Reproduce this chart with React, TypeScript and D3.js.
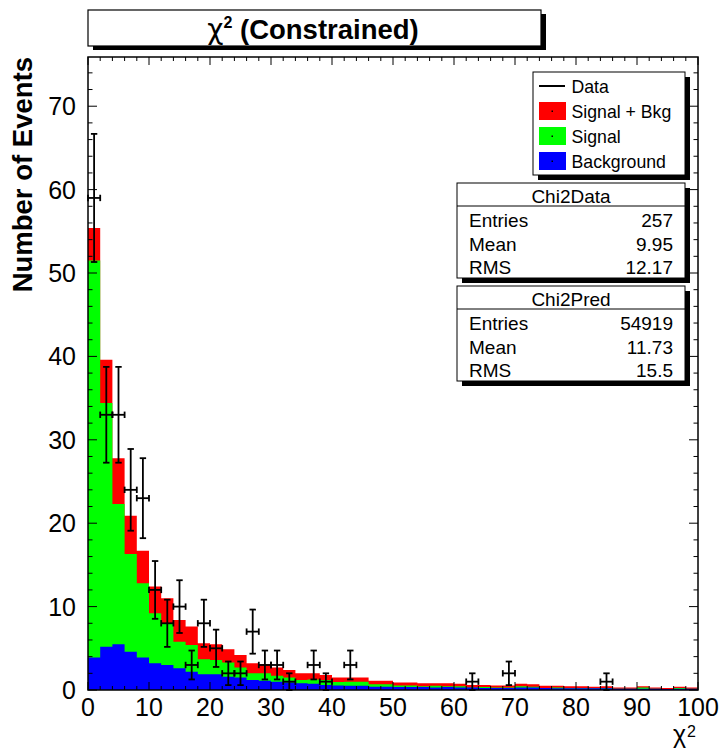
import React from "react";
import * as d3 from "d3";

const W = 722;
const H = 748;
const FONT = "'Liberation Sans', Arial, Helvetica, sans-serif";

// bin edges: 50 bins of width 2 from 0 to 100
const binLow: number[] = d3.range(0, 100, 2);

// Signal (green) per bin
const signal: number[] = [
  51.5, 34.4, 22.3, 16.3, 12.8, 9.2, 8.0, 5.8, 5.4, 3.7,
  3.6, 3.3, 2.7, 2.0, 2.0, 1.7, 1.5, 1.2, 1.25, 1.2,
  0.95, 1.0, 1.0, 0.7, 0.7, 0.55, 0.55, 0.45, 0.5, 0.45,
  0.45, 0.3, 0.35, 0.3, 0.3, 0.45, 0.4, 0.25, 0.3, 0.25,
  0.25, 0.2, 0.25, 0.15, 0.15, 0.3, 0.15, 0.12, 0.25, 0.15,
];

// Background (blue) per bin
const background: number[] = [
  3.9, 5.2, 5.5, 4.6, 3.9, 3.2, 3.0, 2.6, 2.2, 1.9,
  1.9, 1.6, 1.5, 1.2, 1.1, 1.0, 0.9, 0.8, 0.75, 0.6,
  0.55, 0.5, 0.5, 0.4, 0.4, 0.35, 0.35, 0.35, 0.3, 0.35,
  0.3, 0.3, 0.25, 0.25, 0.25, 0.3, 0.3, 0.25, 0.2, 0.2,
  0.2, 0.2, 0.2, 0.15, 0.15, 0.15, 0.15, 0.13, 0.15, 0.15,
];

// Data counts: [bin center, count]
const dataX: number[] = [1, 3, 5, 7, 9, 11, 13, 15, 17, 19, 21, 23, 25, 27, 29, 31, 33, 37, 39, 43, 63, 69, 85];
const dataY: number[] = [59, 33, 33, 24, 23, 12, 8, 10, 3, 8, 5, 2, 2, 7, 3, 3, 1, 3, 1, 3, 1, 2, 1];

const xTicks: number[] = [0, 10, 20, 30, 40, 50, 60, 70, 80, 90, 100];
const yTicks: number[] = [0, 10, 20, 30, 40, 50, 60, 70];

const legendItems = [
  { label: "Data", kind: "line", color: "#000" },
  { label: "Signal + Bkg", kind: "box", color: "#ff0000" },
  { label: "Signal", kind: "box", color: "#00ff00" },
  { label: "Background", kind: "box", color: "#0000ff" },
];

const stats1 = { name: "Chi2Data", rows: [["Entries", "257"], ["Mean", "9.95"], ["RMS", "12.17"]] };
const stats2 = { name: "Chi2Pred", rows: [["Entries", "54919"], ["Mean", "11.73"], ["RMS", "15.5"]] };

const L = 88, R = 698, T = 57, B = 690;

export default function App() {
  const x = d3.scaleLinear().domain([0, 100]).range([L, R]);
  const y = d3.scaleLinear().domain([0, 75.9]).range([B, T]);

  const total = signal.map((s, i) => s + background[i]);

  const stepPts = (vals: number[]) => {
    const pts: [number, number][] = [];
    vals.forEach((v, i) => {
      pts.push([binLow[i], v]);
      pts.push([binLow[i] + 2, v]);
    });
    return pts;
  };
  const area = d3
    .area<[number, number]>()
    .x((d) => x(d[0]))
    .y0(y(0))
    .y1((d) => y(d[1]));

  const minorY = d3.range(0, 76, 2);
  const minorX = d3.range(0, 101, 2);

  const statsBox = (s: typeof stats1, top: number) => {
    const bx = 457, bw = 228, bh = 95;
    return (
      <g key={s.name}>
        <rect x={bx + 5} y={top + 5} width={bw} height={bh} fill="#000" />
        <rect x={bx} y={top} width={bw} height={bh} fill="#fff" stroke="#000" strokeWidth={1} />
        <line x1={bx} x2={bx + bw} y1={top + 23} y2={top + 23} stroke="#000" strokeWidth={1} />
        <text x={bx + bw / 2} y={top + 20} textAnchor="middle" fontSize={19} fontFamily={FONT}>
          {s.name}
        </text>
        {s.rows.map((r, i) => (
          <g key={r[0]}>
            <text x={bx + 12} y={top + 44 + i * 23.5} fontSize={19} fontFamily={FONT}>
              {r[0]}
            </text>
            <text x={bx + 216} y={top + 44 + i * 23.5} fontSize={19} fontFamily={FONT} textAnchor="end">
              {r[1]}
            </text>
          </g>
        ))}
      </g>
    );
  };

  return (
    <svg width={W} height={H} style={{ position: "absolute", left: 0, top: 0, background: "#fff" }}>
      <rect x={0} y={0} width={W} height={H} fill="#fff" />
      {/* title */}
      <rect x={93} y={14} width={453} height={36} fill="#000" />
      <rect x={88} y={10} width={453} height={36} fill="#fff" stroke="#000" strokeWidth={1.2} />
      <text x={313} y={39} textAnchor="middle" fontSize={27.5} fontWeight="bold" fontFamily={FONT}>
        <tspan fontFamily="'DejaVu Sans', sans-serif" fontWeight="normal" fontSize={28}>χ</tspan>
        <tspan fontSize={16} dy={-11}>2</tspan>
        <tspan dy={11}> (Constrained)</tspan>
      </text>

      {/* histograms */}
      <path d={area(stepPts(total)) || ""} fill="#ff0000" />
      <path d={area(stepPts(signal)) || ""} fill="#00ff00" />
      <path d={area(stepPts(background)) || ""} fill="#0000ff" />

      {/* frame */}
      <rect x={L} y={T} width={R - L} height={B - T} fill="none" stroke="#000" strokeWidth={1.5} />

      {/* y ticks left and right */}
      {minorY.map((v) => {
        const major = v % 10 === 0;
        const len = major ? 9 : 4.5;
        return (
          <g key={"y" + v}>
            <line x1={L} x2={L + len} y1={y(v)} y2={y(v)} stroke="#000" strokeWidth={1} />
            <line x1={R} x2={R - len} y1={y(v)} y2={y(v)} stroke="#000" strokeWidth={1} />
          </g>
        );
      })}
      {/* x ticks bottom and top */}
      {minorX.map((v) => {
        const major = v % 10 === 0;
        const len = major ? 8 : 4;
        return (
          <g key={"x" + v}>
            <line x1={x(v)} x2={x(v)} y1={B} y2={B - len} stroke="#000" strokeWidth={1} />
            <line x1={x(v)} x2={x(v)} y1={T} y2={T + len} stroke="#000" strokeWidth={1} />
          </g>
        );
      })}

      {/* data points with error bars */}
      {dataX.map((cx, i) => {
        const n = dataY[i];
        const e = Math.sqrt(n);
        const px = x(cx);
        const py = y(n);
        const yt = y(n + e);
        const yb = y(Math.max(n - e, 0));
        const xl = x(cx - 1);
        const xr = x(cx + 1);
        return (
          <g key={"d" + i} stroke="#000" strokeWidth={1.8}>
            <line x1={px} x2={px} y1={yt} y2={yb} />
            <line x1={xl} x2={xr} y1={py} y2={py} />
            <line x1={px - 3.2} x2={px + 3.2} y1={yt} y2={yt} />
            <line x1={px - 3.2} x2={px + 3.2} y1={yb} y2={yb} />
            <line x1={xl} x2={xl} y1={py - 3.2} y2={py + 3.2} />
            <line x1={xr} x2={xr} y1={py - 3.2} y2={py + 3.2} />
          </g>
        );
      })}

      {/* axis labels */}
      {yTicks.map((v) => (
        <text key={"yl" + v} x={76} y={y(v) + 9} textAnchor="end" fontSize={25} fontFamily={FONT}>
          {v}
        </text>
      ))}
      {xTicks.map((v) => (
        <text key={"xl" + v} x={x(v)} y={716} textAnchor="middle" fontSize={25} fontFamily={FONT}>
          {v}
        </text>
      ))}
      <text
        transform={`translate(32,${T}) rotate(-90)`}
        textAnchor="end"
        fontSize={27.5}
        fontWeight="bold"
        fontFamily={FONT}
      >
        Number of Events
      </text>
      <text x={686} y={743} textAnchor="end" fontSize={25} fontFamily={FONT}>
        χ
      </text>
      <text x={687} y={737} fontSize={16} fontFamily={FONT}>
        2
      </text>

      {/* legend */}
      <rect x={538} y={77} width={152} height={103} fill="#000" />
      <rect x={533} y={72} width={152} height={103} fill="#fff" stroke="#000" strokeWidth={1} />
      {legendItems.map((it, i) => {
        const cy = 86 + i * 25;
        return (
          <g key={it.label}>
            {it.kind === "line" ? (
              <line x1={539} x2={565} y1={cy} y2={cy} stroke="#000" strokeWidth={2} />
            ) : (
              <g>
                <rect x={539} y={cy - 9} width={27} height={18} fill={it.color} />
                <rect x={551.5} y={cy - 0.5} width={1.5} height={1.5} fill="#000" />
              </g>
            )}
            <text x={571.5} y={cy + 6.5} fontSize={17.7} fontFamily={FONT}>
              {it.label}
            </text>
          </g>
        );
      })}

      {statsBox(stats1, 183)}
      {statsBox(stats2, 286)}
    </svg>
  );
}
